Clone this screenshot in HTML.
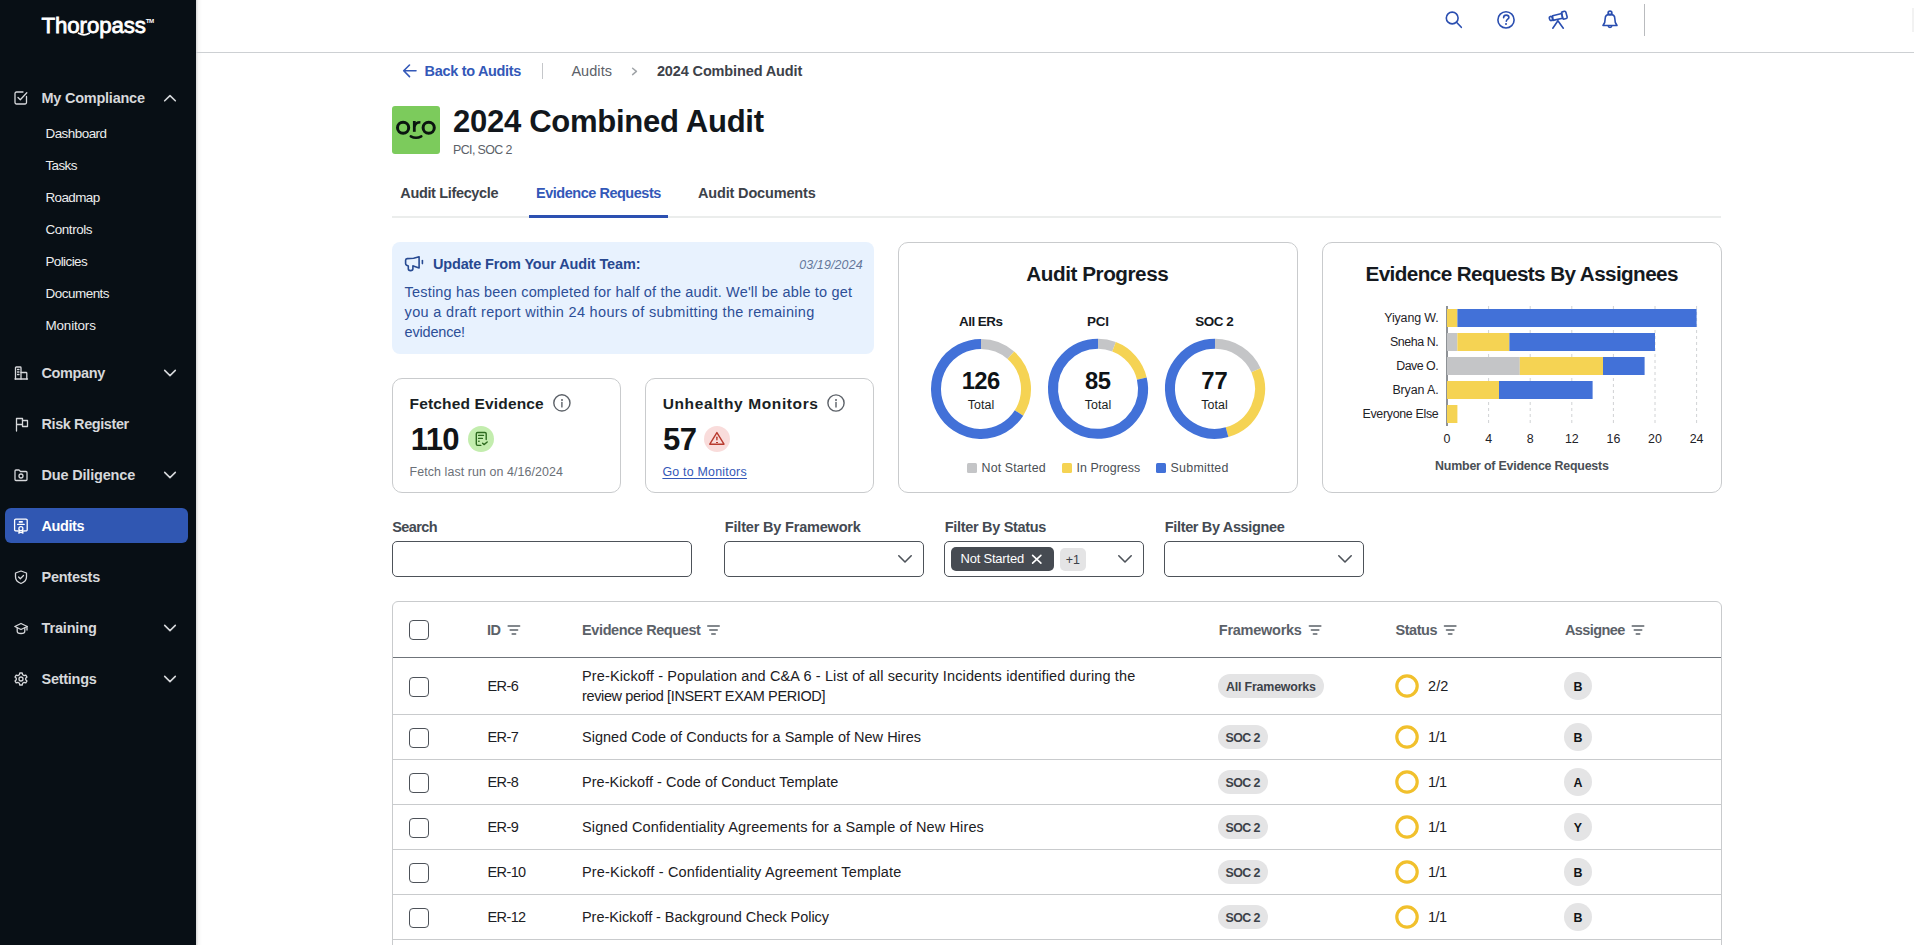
<!DOCTYPE html><html><head><meta charset="utf-8"><title>Thoropass</title><style>
*{box-sizing:border-box;margin:0;padding:0}
html,body{width:1914px;height:945px;overflow:hidden;background:#fff;font-family:"Liberation Sans", sans-serif}
.t{position:absolute;white-space:pre;font-family:"Liberation Sans", sans-serif}
.a{position:absolute}
svg{position:absolute;overflow:visible}
</style></head><body>
<div class="a" style="left:0;top:0;width:196px;height:945px;background:#080f15"></div>
<div class="a" style="left:196px;top:0;width:6px;height:945px;background:linear-gradient(90deg,rgba(0,0,0,.16),rgba(0,0,0,.03) 40%,rgba(0,0,0,0))"></div>
<span class="t" style="left:41.60px;top:15.00px;font-size:22.25px;line-height:22.25px;color:#ffffff;letter-spacing:-0.116px;-webkit-text-stroke:0.8px #fff;">Thoropass</span>
<svg style="left:0;top:0" width="1" height="1"><path d="M78.6 33.3 Q84 36.4 89.2 33.3" fill="none" stroke="#fff" stroke-width="1.8" stroke-linecap="round"/></svg>
<span class="t" style="left:145.80px;top:18.00px;font-size:6.21px;line-height:6.21px;color:#ffffff;font-weight:700;letter-spacing:-0.600px;">TM</span>
<span class="t" style="left:41.50px;top:91.00px;font-size:14.49px;line-height:14.49px;color:#d6d8db;font-weight:700;letter-spacing:-0.229px;">My Compliance</span>
<span class="t" style="left:45.50px;top:127.00px;font-size:13.45px;line-height:13.45px;color:#eceded;letter-spacing:-0.531px;">Dashboard</span>
<span class="t" style="left:45.50px;top:159.00px;font-size:13.45px;line-height:13.45px;color:#eceded;letter-spacing:-0.600px;">Tasks</span>
<span class="t" style="left:45.50px;top:191.00px;font-size:13.45px;line-height:13.45px;color:#eceded;letter-spacing:-0.600px;">Roadmap</span>
<span class="t" style="left:45.50px;top:223.00px;font-size:13.45px;line-height:13.45px;color:#eceded;letter-spacing:-0.435px;">Controls</span>
<span class="t" style="left:45.50px;top:255.00px;font-size:13.45px;line-height:13.45px;color:#eceded;letter-spacing:-0.600px;">Policies</span>
<span class="t" style="left:45.50px;top:287.00px;font-size:13.45px;line-height:13.45px;color:#eceded;letter-spacing:-0.484px;">Documents</span>
<span class="t" style="left:45.50px;top:319.00px;font-size:13.45px;line-height:13.45px;color:#eceded;letter-spacing:-0.162px;">Monitors</span>
<div class="a" style="left:5px;top:508px;width:183px;height:35px;border-radius:6px;background:#3057b2"></div>
<span class="t" style="left:41.50px;top:366.00px;font-size:14.49px;line-height:14.49px;color:#d6d8db;font-weight:700;letter-spacing:-0.367px;">Company</span>
<span class="t" style="left:41.50px;top:417.00px;font-size:14.49px;line-height:14.49px;color:#d6d8db;font-weight:700;letter-spacing:-0.408px;">Risk Register</span>
<span class="t" style="left:41.50px;top:468.00px;font-size:14.49px;line-height:14.49px;color:#d6d8db;font-weight:700;letter-spacing:-0.175px;">Due Diligence</span>
<span class="t" style="left:41.50px;top:519.00px;font-size:14.49px;line-height:14.49px;color:#ffffff;font-weight:700;letter-spacing:-0.412px;">Audits</span>
<span class="t" style="left:41.50px;top:570.00px;font-size:14.49px;line-height:14.49px;color:#d6d8db;font-weight:700;letter-spacing:-0.242px;">Pentests</span>
<span class="t" style="left:41.50px;top:621.00px;font-size:14.49px;line-height:14.49px;color:#d6d8db;font-weight:700;letter-spacing:-0.149px;">Training</span>
<span class="t" style="left:41.50px;top:672.00px;font-size:14.49px;line-height:14.49px;color:#d6d8db;font-weight:700;letter-spacing:-0.263px;">Settings</span>
<svg style="left:0;top:0" width="1" height="1"><path d="M164.7,100.8 L170,95.60000000000001 L175.3,100.8" fill="none" stroke="#d6d8db" stroke-width="1.6" stroke-linecap="round" stroke-linejoin="round"/></svg>
<svg style="left:0;top:0" width="1" height="1"><path d="M164.7,370.4 L170,375.6 L175.3,370.4" fill="none" stroke="#d6d8db" stroke-width="1.6" stroke-linecap="round" stroke-linejoin="round"/></svg>
<svg style="left:0;top:0" width="1" height="1"><path d="M164.7,472.4 L170,477.6 L175.3,472.4" fill="none" stroke="#d6d8db" stroke-width="1.6" stroke-linecap="round" stroke-linejoin="round"/></svg>
<svg style="left:0;top:0" width="1" height="1"><path d="M164.7,625.4 L170,630.6 L175.3,625.4" fill="none" stroke="#d6d8db" stroke-width="1.6" stroke-linecap="round" stroke-linejoin="round"/></svg>
<svg style="left:0;top:0" width="1" height="1"><path d="M164.7,676.4 L170,681.6 L175.3,676.4" fill="none" stroke="#d6d8db" stroke-width="1.6" stroke-linecap="round" stroke-linejoin="round"/></svg>
<svg style="left:14px;top:91px" width="14" height="14" viewBox="0 0 14 14" fill="none" stroke="#d6d8db" stroke-width="1.3" stroke-linecap="round" stroke-linejoin="round"><path d="M12.5 5.5 V11.5 a1.5 1.5 0 0 1 -1.5 1.5 H2.5 a1.5 1.5 0 0 1 -1.5 -1.5 V2.5 a1.5 1.5 0 0 1 1.5 -1.5 H9"/><path d="M4 6.5 L6.3 8.8 L12.8 1.8"/></svg>
<svg style="left:14px;top:366px" width="14" height="14" viewBox="0 0 14 14" fill="none" stroke="#d6d8db" stroke-width="1.3" stroke-linecap="round" stroke-linejoin="round"><path d="M1 13 H13.5"/><path d="M1.5 13 V1.8 a0.8 0.8 0 0 1 0.8 -0.8 H6.2 a0.8 0.8 0 0 1 0.8 0.8 V13"/><path d="M7 6.5 H12 a0.8 0.8 0 0 1 0.8 0.8 V13"/><path d="M3.5 3.5 H5 M3.5 6 H5 M3.5 8.5 H5"/></svg>
<svg style="left:14.5px;top:417px" width="14" height="14" viewBox="0 0 14 14" fill="none" stroke="#d6d8db" stroke-width="1.3" stroke-linecap="round" stroke-linejoin="round"><path d="M1.5 14 V1.5 H7.5 V3.5 H12.5 V9.5 H7.5 V7.5 H1.5"/><path d="M7.5 3.5 V7.5"/></svg>
<svg style="left:14px;top:468px" width="14" height="14" viewBox="0 0 14 14" fill="none" stroke="#d6d8db" stroke-width="1.3" stroke-linecap="round" stroke-linejoin="round"><path d="M1 3 a1 1 0 0 1 1 -1 H5 L6.5 3.5 H12 a1 1 0 0 1 1 1 V11.5 a1 1 0 0 1 -1 1 H2 a1 1 0 0 1 -1 -1 Z"/><circle cx="7" cy="8" r="2"/></svg>
<svg style="left:14px;top:519px" width="14" height="14" viewBox="0 0 14 14" fill="none" stroke="#ffffff" stroke-width="1.3" stroke-linecap="round" stroke-linejoin="round"><path d="M4.4 12 L1.8 11.9 a1.2 1.2 0 0 1 -1.2 -1.2 V1.4 a1.2 1.2 0 0 1 1.2 -1.2 H12 a1.2 1.2 0 0 1 1.2 1.2 V10.7 a1.2 1.2 0 0 1 -1.2 1.2 L9.4 12"/><path d="M5.4 2.9 H8.2" stroke-width="1.6"/><path d="M3.6 5.4 H10.2"/><circle cx="6.9" cy="9.7" r="2"/><path d="M5.5 11.3 L4.8 14.1 L6.9 13.2 L9 14.1 L8.3 11.3"/></svg>
<svg style="left:14px;top:570px" width="14" height="14" viewBox="0 0 14 14" fill="none" stroke="#d6d8db" stroke-width="1.3" stroke-linecap="round" stroke-linejoin="round"><path d="M7 1 L12.5 3 V7 C12.5 10 10 12.3 7 13.5 C4 12.3 1.5 10 1.5 7 V3 Z"/><path d="M4.6 7 L6.3 8.7 L9.5 5.5"/></svg>
<svg style="left:14px;top:621px" width="14" height="14" viewBox="0 0 14 14" fill="none" stroke="#d6d8db" stroke-width="1.3" stroke-linecap="round" stroke-linejoin="round"><path d="M7 2.5 L13.2 5.5 L7 8.5 L0.8 5.5 Z"/><path d="M3.2 6.8 V10.2 C3.2 11.5 5 12.5 7 12.5 C9 12.5 10.8 11.5 10.8 10.2 V6.8"/><path d="M13 5.5 V9"/></svg>
<svg style="left:14px;top:672px" width="14" height="14" viewBox="0 0 14 14" fill="none" stroke="#d6d8db" stroke-width="1.3" stroke-linecap="round" stroke-linejoin="round"><circle cx="7" cy="7" r="2"/><path d="M5.8 1 H8.2 L8.6 2.7 L10.1 3.6 L11.8 3.1 L13 5.1 L11.7 6.3 V7.7 L13 8.9 L11.8 10.9 L10.1 10.4 L8.6 11.3 L8.2 13 H5.8 L5.4 11.3 L3.9 10.4 L2.2 10.9 L1 8.9 L2.3 7.7 V6.3 L1 5.1 L2.2 3.1 L3.9 3.6 L5.4 2.7 Z"/></svg>
<div class="a" style="left:196px;top:52px;width:1718px;height:1px;background:#cdd0d3"></div>
<div class="a" style="left:1644px;top:4px;width:1px;height:32px;background:#b9bbbe"></div>
<div class="a" style="left:1912px;top:8px;width:2px;height:24px;background:#f2f2f2"></div>
<svg style="left:0;top:0" width="1" height="1" fill="none" stroke="#2a4eb0" stroke-width="1.6" stroke-linecap="round" stroke-linejoin="round"><circle cx="1452.2" cy="18" r="5.9"/><path d="M1456.5 22.3 L1461.3 27.3"/><circle cx="1506" cy="19.9" r="8.1"/><path d="M1503.6 17.7 C1503.6 16 1504.8 15.1 1506.2 15.1 C1507.8 15.1 1508.9 16.1 1508.9 17.4 C1508.9 19 1506.3 19.3 1506.3 21.3"/><path d="M1552.6 15.7 L1561.8 13.5 L1562.6 18.3 L1552.9 20.4 Z"/><ellipse cx="1550.9" cy="18.5" rx="1.5" ry="2.1" transform="rotate(-14 1550.9 18.5)"/><rect x="1562.1" y="11.5" width="4.5" height="7.4" rx="1.2" transform="rotate(-15 1564.3 15.2)"/><path d="M1557.9 20.8 L1552.8 28.2 M1557.9 20.8 L1563.3 28.2"/><circle cx="1610" cy="13" r="1.9"/><path d="M1605.2 18.5 C1605.2 15.5 1607.2 14.4 1610 14.4 C1612.8 14.4 1614.8 15.5 1614.8 18.5 L1615.3 22.5 L1617 25.5 H1603 L1604.7 22.5 Z"/><path d="M1608.3 26 C1608.3 27.8 1611.7 27.8 1611.7 26"/></svg>
<div class="a" style="left:1505.3px;top:23.2px;width:1.9px;height:1.9px;background:#2a4eb0;border-radius:1px"></div>
<svg style="left:0;top:0" width="1" height="1" fill="none" stroke="#3358b8" stroke-width="1.6" stroke-linecap="round" stroke-linejoin="round"><path d="M416 70.8 H404 M409.5 65 L403.7 70.8 L409.5 76.6"/></svg>
<span class="t" style="left:424.60px;top:64.00px;font-size:14.49px;line-height:14.49px;color:#3358b8;font-weight:700;letter-spacing:-0.313px;">Back to Audits</span>
<div class="a" style="left:542px;top:63px;width:1px;height:16px;background:#c5c7ca"></div>
<span class="t" style="left:571.40px;top:64.00px;font-size:14.49px;line-height:14.49px;color:#5b6168;letter-spacing:0.067px;">Audits</span>
<svg style="left:0;top:0" width="1" height="1"><path d="M632.6 68.2 L636.4 71.4 L632.6 74.6" fill="none" stroke="#a0a4a8" stroke-width="1.5" stroke-linecap="round" stroke-linejoin="round"/></svg>
<span class="t" style="left:656.90px;top:64.00px;font-size:14.49px;line-height:14.49px;color:#3d4249;font-weight:700;letter-spacing:-0.119px;">2024 Combined Audit</span>
<div class="a" style="left:392px;top:106px;width:48px;height:48px;border-radius:3px;background:#7ccb5c"></div>
<svg style="left:0;top:0" width="1" height="1" fill="none" stroke="#0b1510" stroke-width="3"><ellipse cx="403.1" cy="127.7" rx="5.6" ry="5.5"/><ellipse cx="428.7" cy="127.7" rx="5.6" ry="5.5"/><path d="M414.3 121 V131.8" stroke-width="2.8"/><path d="M414.6 126.5 C415.2 123.6 417.3 122.2 420.4 122.2" stroke-width="2.6"/><path d="M410.8 136.3 Q416 139.2 421.3 136.3" stroke-width="2.6" stroke-linecap="round"/></svg>
<span class="t" style="left:453.00px;top:106.00px;font-size:31.05px;line-height:31.05px;color:#12171c;font-weight:700;letter-spacing:-0.293px;">2024 Combined Audit</span>
<span class="t" style="left:453.00px;top:144.00px;font-size:12.42px;line-height:12.42px;color:#5b6168;letter-spacing:-0.600px;">PCI, SOC 2</span>
<span class="t" style="left:400.30px;top:186.00px;font-size:14.49px;line-height:14.49px;color:#3d4249;font-weight:700;letter-spacing:-0.345px;">Audit Lifecycle</span>
<span class="t" style="left:536.00px;top:186.00px;font-size:14.49px;line-height:14.49px;color:#3358b8;font-weight:700;letter-spacing:-0.471px;">Evidence Requests</span>
<span class="t" style="left:698.00px;top:186.00px;font-size:14.49px;line-height:14.49px;color:#3d4249;font-weight:700;letter-spacing:-0.158px;">Audit Documents</span>
<div class="a" style="left:392px;top:216px;width:1329px;height:2px;background:#ebedec"></div>
<div class="a" style="left:529px;top:215px;width:139px;height:3px;background:#2c50b1"></div>
<div class="a" style="left:392px;top:242px;width:482px;height:112px;border-radius:8px;background:#e8f2fe"></div>
<svg style="left:0;top:0" width="1" height="1" fill="none" stroke="#274a92" stroke-width="1.6" stroke-linecap="round" stroke-linejoin="round"><path d="M405.6 260.2 Q405.6 258.7 407.2 258.6 L413.6 258.3 L419.1 256.7 V267.9 L413.3 265.9 H412.9 V268.8 Q412.9 270.6 410.6 270.6 Q408.3 270.6 408.3 268.8 V266 L406.6 265.3 Q405.6 264.9 405.6 263.6 Z"/><path d="M422.4 260.6 V263.6"/></svg>
<span class="t" style="left:432.90px;top:257.00px;font-size:14.49px;line-height:14.49px;color:#274890;font-weight:700;letter-spacing:-0.130px;">Update From Your Audit Team:</span>
<span class="t" style="left:799.20px;top:259.00px;font-size:12.42px;line-height:12.42px;color:#64779a;font-style:italic;letter-spacing:0.145px;">03/19/2024</span>
<span class="t" style="left:404.60px;top:285.00px;font-size:14.49px;line-height:14.49px;color:#2d4f97;letter-spacing:0.181px;">Testing has been completed for half of the audit. We'll be able to get</span>
<span class="t" style="left:404.60px;top:305.00px;font-size:14.49px;line-height:14.49px;color:#2d4f97;letter-spacing:0.328px;">you a draft report within 24 hours of submitting the remaining</span>
<span class="t" style="left:404.60px;top:325.00px;font-size:14.49px;line-height:14.49px;color:#2d4f97;letter-spacing:-0.189px;">evidence!</span>
<div class="a" style="left:392px;top:378px;width:229px;height:115px;border:1px solid #c9cbcd;border-radius:10px"></div>
<div class="a" style="left:645px;top:378px;width:229px;height:115px;border:1px solid #c9cbcd;border-radius:10px"></div>
<span class="t" style="left:409.60px;top:396.00px;font-size:15.52px;line-height:15.52px;color:#1a1f24;font-weight:700;letter-spacing:0.144px;">Fetched Evidence</span>
<span class="t" style="left:662.70px;top:396.00px;font-size:15.52px;line-height:15.52px;color:#1a1f24;font-weight:700;letter-spacing:0.616px;">Unhealthy Monitors</span>
<svg style="left:0;top:0" width="1" height="1" fill="none" stroke="#5c6168" stroke-width="1.4" stroke-linecap="round"><circle cx="561.9" cy="402.9" r="8.1"/><path d="M561.9 402.4 V406.9"/></svg>
<div class="a" style="left:560.9px;top:398.7px;width:2px;height:2px;border-radius:1px;background:#5c6168"></div>
<svg style="left:0;top:0" width="1" height="1" fill="none" stroke="#5c6168" stroke-width="1.4" stroke-linecap="round"><circle cx="836" cy="403" r="8.1"/><path d="M836 402.5 V407"/></svg>
<div class="a" style="left:835px;top:398.8px;width:2px;height:2px;border-radius:1px;background:#5c6168"></div>
<span class="t" style="left:410.70px;top:424.00px;font-size:31.05px;line-height:31.05px;color:#111417;font-weight:700;letter-spacing:-0.600px;">110</span>
<span class="t" style="left:663.00px;top:424.00px;font-size:31.05px;line-height:31.05px;color:#111417;font-weight:700;letter-spacing:-0.600px;">57</span>
<div class="a" style="left:468px;top:426px;width:26px;height:26px;border-radius:13px;background:#c3edae"></div>
<svg style="left:0;top:0" width="1" height="1" fill="none" stroke="#2d6a1f" stroke-width="1.4" stroke-linecap="round" stroke-linejoin="round"><path d="M480.8 445.4 H477.6 a1.3 1.3 0 0 1 -1.3 -1.3 V433.8 a1.3 1.3 0 0 1 1.3 -1.3 H484.9 a1.3 1.3 0 0 1 1.3 1.3 V439.6"/><path d="M478.6 435.4 H483.5 M478.6 438.4 H482.4 M478.7 441.2 H479.1"/><path d="M482.6 443.2 L484 444.6 L487.2 442"/></svg>
<div class="a" style="left:704px;top:426px;width:26px;height:26px;border-radius:13px;background:#f9dcdb"></div>
<svg style="left:0;top:0" width="1" height="1" fill="none" stroke="#b83a2e" stroke-width="1.4" stroke-linecap="round" stroke-linejoin="round"><path d="M716.9 432.6 L724 444.2 H709.8 Z"/><path d="M716.9 437.3 V439.8"/></svg>
<div class="a" style="left:716.3px;top:441.6px;width:1.5px;height:1.5px;background:#b83a2e"></div>
<span class="t" style="left:409.60px;top:466.00px;font-size:12.42px;line-height:12.42px;color:#6b7077;letter-spacing:0.087px;">Fetch last run on 4/16/2024</span>
<span class="t" style="left:662.40px;top:466.00px;font-size:12.42px;line-height:12.42px;color:#3358b8;letter-spacing:0.225px;text-decoration:underline;text-underline-offset:2px;">Go to Monitors</span>
<div class="a" style="left:898px;top:242px;width:400px;height:251px;border:1px solid #c9cbcd;border-radius:10px"></div>
<span class="t" style="left:1026.25px;top:264.00px;font-size:20.7px;line-height:20.7px;color:#151a1f;font-weight:700;letter-spacing:-0.446px;">Audit Progress</span>
<svg style="left:0;top:0" width="1" height="1"><path d="M981.00 343.90 A45 45 0 0 1 1010.82 355.20" fill="none" stroke="#c4c5c7" stroke-width="10"/><path d="M1010.82 355.20 A45 45 0 0 1 1018.99 413.01" fill="none" stroke="#f5d353" stroke-width="10"/><path d="M1018.99 413.01 A45 45 0 1 1 981.00 343.90" fill="none" stroke="#4271d8" stroke-width="10"/></svg>
<svg style="left:0;top:0" width="1" height="1"><path d="M1098.00 343.80 A45 45 0 0 1 1114.05 346.76" fill="none" stroke="#c4c5c7" stroke-width="10"/><path d="M1114.05 346.76 A45 45 0 0 1 1141.81 378.52" fill="none" stroke="#f5d353" stroke-width="10"/><path d="M1141.81 378.52 A45 45 0 1 1 1098.00 343.80" fill="none" stroke="#4271d8" stroke-width="10"/></svg>
<svg style="left:0;top:0" width="1" height="1"><path d="M1215.00 343.80 A45 45 0 0 1 1256.01 370.28" fill="none" stroke="#c4c5c7" stroke-width="10"/><path d="M1256.01 370.28 A45 45 0 0 1 1227.03 432.16" fill="none" stroke="#f5d353" stroke-width="10"/><path d="M1227.03 432.16 A45 45 0 1 1 1215.00 343.80" fill="none" stroke="#4271d8" stroke-width="10"/></svg>
<span class="t" style="left:959.10px;top:315.00px;font-size:13.45px;line-height:13.45px;color:#151a1f;font-weight:700;letter-spacing:-0.541px;">All ERs</span>
<span class="t" style="left:961.74px;top:369.00px;font-size:23.8px;line-height:23.8px;color:#0f1316;font-weight:700;letter-spacing:-0.600px;">126</span>
<span class="t" style="left:967.70px;top:399.00px;font-size:12.42px;line-height:12.42px;color:#1a1e22;letter-spacing:0.095px;">Total</span>
<span class="t" style="left:1087.10px;top:315.00px;font-size:13.45px;line-height:13.45px;color:#151a1f;font-weight:700;letter-spacing:-0.303px;">PCI</span>
<span class="t" style="left:1084.95px;top:369.00px;font-size:23.8px;line-height:23.8px;color:#0f1316;font-weight:700;letter-spacing:-0.384px;">85</span>
<span class="t" style="left:1084.70px;top:399.00px;font-size:12.42px;line-height:12.42px;color:#1a1e22;letter-spacing:0.095px;">Total</span>
<span class="t" style="left:1195.25px;top:315.00px;font-size:13.45px;line-height:13.45px;color:#151a1f;font-weight:700;letter-spacing:-0.457px;">SOC 2</span>
<span class="t" style="left:1201.30px;top:369.00px;font-size:23.8px;line-height:23.8px;color:#0f1316;font-weight:700;letter-spacing:-0.084px;">77</span>
<span class="t" style="left:1201.20px;top:399.00px;font-size:12.42px;line-height:12.42px;color:#1a1e22;letter-spacing:0.095px;">Total</span>
<div class="a" style="left:967px;top:463px;width:10px;height:10px;border-radius:1.5px;background:#c4c5c7"></div>
<span class="t" style="left:981.60px;top:462.00px;font-size:12.42px;line-height:12.42px;color:#4a4f55;letter-spacing:0.123px;">Not Started</span>
<div class="a" style="left:1062px;top:463px;width:10px;height:10px;border-radius:1.5px;background:#f5d353"></div>
<span class="t" style="left:1076.60px;top:462.00px;font-size:12.42px;line-height:12.42px;color:#4a4f55;letter-spacing:0.016px;">In Progress</span>
<div class="a" style="left:1156px;top:463px;width:10px;height:10px;border-radius:1.5px;background:#4271d8"></div>
<span class="t" style="left:1170.60px;top:462.00px;font-size:12.42px;line-height:12.42px;color:#4a4f55;letter-spacing:0.243px;">Submitted</span>
<div class="a" style="left:1322px;top:242px;width:400px;height:251px;border:1px solid #c9cbcd;border-radius:10px"></div>
<span class="t" style="left:1365.51px;top:264.00px;font-size:20.7px;line-height:20.7px;color:#151a1f;font-weight:700;letter-spacing:-0.600px;">Evidence Requests By Assignees</span>
<svg style="left:0;top:0" width="1" height="1"><path d="M1488.6 306 V426" stroke="#d0d2d4" stroke-width="1" stroke-dasharray="3 3"/><path d="M1530.2 306 V426" stroke="#d0d2d4" stroke-width="1" stroke-dasharray="3 3"/><path d="M1571.8 306 V426" stroke="#d0d2d4" stroke-width="1" stroke-dasharray="3 3"/><path d="M1613.4 306 V426" stroke="#d0d2d4" stroke-width="1" stroke-dasharray="3 3"/><path d="M1655.0 306 V426" stroke="#d0d2d4" stroke-width="1" stroke-dasharray="3 3"/><path d="M1696.6 306 V426" stroke="#d0d2d4" stroke-width="1" stroke-dasharray="3 3"/><path d="M1447 306 V426" stroke="#5f646a" stroke-width="1.4"/><rect x="1447.00" y="309" width="10.40" height="18" fill="#f5d353"/><rect x="1457.40" y="309" width="239.20" height="18" fill="#4271d8"/><rect x="1447.00" y="333" width="10.40" height="18" fill="#c4c5c7"/><rect x="1457.40" y="333" width="52.00" height="18" fill="#f5d353"/><rect x="1509.40" y="333" width="145.60" height="18" fill="#4271d8"/><rect x="1447.00" y="357" width="72.80" height="18" fill="#c4c5c7"/><rect x="1519.80" y="357" width="83.20" height="18" fill="#f5d353"/><rect x="1603.00" y="357" width="41.60" height="18" fill="#4271d8"/><rect x="1447.00" y="381" width="52.00" height="18" fill="#f5d353"/><rect x="1499.00" y="381" width="93.60" height="18" fill="#4271d8"/><rect x="1447.00" y="405" width="10.40" height="18" fill="#f5d353"/></svg>
<span class="t" style="left:1384.20px;top:312.00px;font-size:12.42px;line-height:12.42px;color:#1f2328;letter-spacing:-0.113px;">Yiyang W.</span>
<span class="t" style="left:1390.00px;top:336.00px;font-size:12.42px;line-height:12.42px;color:#1f2328;letter-spacing:-0.433px;">Sneha N.</span>
<span class="t" style="left:1396.20px;top:360.00px;font-size:12.42px;line-height:12.42px;color:#1f2328;letter-spacing:-0.503px;">Dave O.</span>
<span class="t" style="left:1392.40px;top:384.00px;font-size:12.42px;line-height:12.42px;color:#1f2328;letter-spacing:-0.087px;">Bryan A.</span>
<span class="t" style="left:1362.50px;top:408.00px;font-size:12.42px;line-height:12.42px;color:#1f2328;letter-spacing:-0.317px;">Everyone Else</span>
<span class="t" style="left:1443.55px;top:433.00px;font-size:12.42px;line-height:12.42px;color:#1f2328;">0</span>
<span class="t" style="left:1485.15px;top:433.00px;font-size:12.42px;line-height:12.42px;color:#1f2328;">4</span>
<span class="t" style="left:1526.75px;top:433.00px;font-size:12.42px;line-height:12.42px;color:#1f2328;">8</span>
<span class="t" style="left:1564.89px;top:433.00px;font-size:12.42px;line-height:12.42px;color:#1f2328;">12</span>
<span class="t" style="left:1606.49px;top:433.00px;font-size:12.42px;line-height:12.42px;color:#1f2328;">16</span>
<span class="t" style="left:1648.09px;top:433.00px;font-size:12.42px;line-height:12.42px;color:#1f2328;">20</span>
<span class="t" style="left:1689.69px;top:433.00px;font-size:12.42px;line-height:12.42px;color:#1f2328;">24</span>
<span class="t" style="left:1435.10px;top:460.00px;font-size:12.42px;line-height:12.42px;color:#4a4f55;font-weight:700;letter-spacing:-0.210px;">Number of Evidence Requests</span>
<span class="t" style="left:392.20px;top:520.00px;font-size:14.49px;line-height:14.49px;color:#444a52;font-weight:700;letter-spacing:-0.600px;">Search</span>
<span class="t" style="left:724.80px;top:520.00px;font-size:14.49px;line-height:14.49px;color:#444a52;font-weight:700;letter-spacing:-0.176px;">Filter By Framework</span>
<span class="t" style="left:944.80px;top:520.00px;font-size:14.49px;line-height:14.49px;color:#444a52;font-weight:700;letter-spacing:-0.310px;">Filter By Status</span>
<span class="t" style="left:1164.80px;top:520.00px;font-size:14.49px;line-height:14.49px;color:#444a52;font-weight:700;letter-spacing:-0.344px;">Filter By Assignee</span>
<div class="a" style="left:392px;top:541px;width:300px;height:36px;border:1px solid #4d5259;border-radius:5px"></div>
<div class="a" style="left:724px;top:541px;width:200px;height:36px;border:1px solid #4d5259;border-radius:5px"></div>
<div class="a" style="left:944px;top:541px;width:200px;height:36px;border:1px solid #4d5259;border-radius:5px"></div>
<div class="a" style="left:1164px;top:541px;width:200px;height:36px;border:1px solid #4d5259;border-radius:5px"></div>
<svg style="left:0;top:0" width="1" height="1"><path d="M898.8,555.8 L905,562.0 L911.2,555.8" fill="none" stroke="#4d5259" stroke-width="1.6" stroke-linecap="round" stroke-linejoin="round"/></svg>
<svg style="left:0;top:0" width="1" height="1"><path d="M1118.8,555.8 L1125,562.0 L1131.2,555.8" fill="none" stroke="#4d5259" stroke-width="1.6" stroke-linecap="round" stroke-linejoin="round"/></svg>
<svg style="left:0;top:0" width="1" height="1"><path d="M1338.8,555.8 L1345,562.0 L1351.2,555.8" fill="none" stroke="#4d5259" stroke-width="1.6" stroke-linecap="round" stroke-linejoin="round"/></svg>
<div class="a" style="left:951px;top:547px;width:103px;height:24px;border-radius:5px;background:#464b52"></div>
<span class="t" style="left:960.50px;top:553.00px;font-size:12.94px;line-height:12.94px;color:#ffffff;letter-spacing:-0.185px;">Not Started</span>
<svg style="left:0;top:0" width="1" height="1"><path d="M1032.6 555.3 L1040.9 563.2 M1040.9 555.3 L1032.6 563.2" stroke="#ffffff" stroke-width="1.6" stroke-linecap="round"/></svg>
<div class="a" style="left:1060px;top:548px;width:26px;height:23px;border-radius:5px;background:#e4e4e5"></div>
<span class="t" style="left:1065.72px;top:554.00px;font-size:12.42px;line-height:12.42px;color:#3d4249;">+1</span>
<div class="a" style="left:392px;top:601px;width:1330px;height:400px;border:1px solid #c9cbcd;border-radius:6px"></div>
<div class="a" style="left:393px;top:657px;width:1328px;height:1px;background:#6f747a"></div>
<div class="a" style="left:393px;top:714px;width:1328px;height:1px;background:#c9cbcd"></div>
<div class="a" style="left:393px;top:759px;width:1328px;height:1px;background:#c9cbcd"></div>
<div class="a" style="left:393px;top:804px;width:1328px;height:1px;background:#c9cbcd"></div>
<div class="a" style="left:393px;top:849px;width:1328px;height:1px;background:#c9cbcd"></div>
<div class="a" style="left:393px;top:894px;width:1328px;height:1px;background:#c9cbcd"></div>
<div class="a" style="left:393px;top:939px;width:1328px;height:1px;background:#c9cbcd"></div>
<div class="a" style="left:409px;top:620px;width:20px;height:20px;border:1.5px solid #4d5259;border-radius:4px"></div>
<span class="t" style="left:487.10px;top:623.00px;font-size:14.49px;line-height:14.49px;color:#5b6168;font-weight:700;letter-spacing:-0.500px;">ID</span>
<svg style="left:0;top:0" width="1" height="1" stroke="#5b6168" stroke-width="1.6" stroke-linecap="round"><path d="M508.2 626 H519.6 M510.2 630 H517.6 M512.1999999999999 634 H515.6"/></svg>
<span class="t" style="left:582.10px;top:623.00px;font-size:14.49px;line-height:14.49px;color:#5b6168;font-weight:700;letter-spacing:-0.399px;">Evidence Request</span>
<svg style="left:0;top:0" width="1" height="1" stroke="#5b6168" stroke-width="1.6" stroke-linecap="round"><path d="M707.8 626 H719.2 M709.8 630 H717.2 M711.8 634 H715.2"/></svg>
<span class="t" style="left:1218.80px;top:623.00px;font-size:14.49px;line-height:14.49px;color:#5b6168;font-weight:700;letter-spacing:-0.249px;">Frameworks</span>
<svg style="left:0;top:0" width="1" height="1" stroke="#5b6168" stroke-width="1.6" stroke-linecap="round"><path d="M1309.3999999999999 626 H1320.8 M1311.3999999999999 630 H1318.8 M1313.3999999999999 634 H1316.8"/></svg>
<span class="t" style="left:1395.50px;top:623.00px;font-size:14.49px;line-height:14.49px;color:#5b6168;font-weight:700;letter-spacing:-0.436px;">Status</span>
<svg style="left:0;top:0" width="1" height="1" stroke="#5b6168" stroke-width="1.6" stroke-linecap="round"><path d="M1444.5 626 H1455.9 M1446.5 630 H1453.9 M1448.5 634 H1451.9"/></svg>
<span class="t" style="left:1565.00px;top:623.00px;font-size:14.49px;line-height:14.49px;color:#5b6168;font-weight:700;letter-spacing:-0.600px;">Assignee</span>
<svg style="left:0;top:0" width="1" height="1" stroke="#5b6168" stroke-width="1.6" stroke-linecap="round"><path d="M1632.3 626 H1643.7 M1634.3 630 H1641.7 M1636.3 634 H1639.7"/></svg>
<div class="a" style="left:409px;top:676.5px;width:20px;height:20px;border:1.5px solid #4d5259;border-radius:4px"></div>
<span class="t" style="left:487.50px;top:679.00px;font-size:14.49px;line-height:14.49px;color:#1c2024;letter-spacing:-0.600px;">ER-6</span>
<span class="t" style="left:582.00px;top:669.00px;font-size:14.49px;line-height:14.49px;color:#1c2024;letter-spacing:0.132px;">Pre-Kickoff - Population and C&amp;A 6 - List of all security Incidents identified during the</span>
<span class="t" style="left:582.00px;top:689.00px;font-size:14.49px;line-height:14.49px;color:#1c2024;letter-spacing:-0.362px;">review period [INSERT EXAM PERIOD]</span>
<div class="a" style="left:1218px;top:674.0px;width:106px;height:24px;border-radius:12px;background:#e4e4e5"></div>
<span class="t" style="left:1226.00px;top:681.00px;font-size:12.42px;line-height:12.42px;color:#3d4249;font-weight:700;letter-spacing:-0.185px;">All Frameworks</span>
<svg style="left:0;top:0" width="1" height="1"><circle cx="1407" cy="686.0" r="10.2" fill="none" stroke="#f1c02c" stroke-width="3.2"/></svg>
<span class="t" style="left:1428.00px;top:679.00px;font-size:14.49px;line-height:14.49px;color:#1c2024;letter-spacing:0.080px;">2/2</span>
<div class="a" style="left:1564px;top:672.0px;width:28px;height:28px;border-radius:14px;background:#e4e4e5"></div>
<span class="t" style="left:1573.52px;top:681.00px;font-size:12.42px;line-height:12.42px;color:#111417;font-weight:700;">B</span>
<div class="a" style="left:409px;top:727.5px;width:20px;height:20px;border:1.5px solid #4d5259;border-radius:4px"></div>
<span class="t" style="left:487.50px;top:730.00px;font-size:14.49px;line-height:14.49px;color:#1c2024;letter-spacing:-0.600px;">ER-7</span>
<span class="t" style="left:582.00px;top:730.00px;font-size:14.49px;line-height:14.49px;color:#1c2024;letter-spacing:0.018px;">Signed Code of Conducts for a Sample of New Hires</span>
<div class="a" style="left:1218px;top:725.0px;width:50px;height:24px;border-radius:12px;background:#e4e4e5"></div>
<span class="t" style="left:1225.58px;top:732.00px;font-size:12.42px;line-height:12.42px;color:#3d4249;font-weight:700;letter-spacing:-0.600px;">SOC 2</span>
<svg style="left:0;top:0" width="1" height="1"><circle cx="1407" cy="737.0" r="10.2" fill="none" stroke="#f1c02c" stroke-width="3.2"/></svg>
<span class="t" style="left:1428.00px;top:730.00px;font-size:14.49px;line-height:14.49px;color:#1c2024;letter-spacing:-0.600px;">1/1</span>
<div class="a" style="left:1564px;top:723.0px;width:28px;height:28px;border-radius:14px;background:#e4e4e5"></div>
<span class="t" style="left:1573.52px;top:732.00px;font-size:12.42px;line-height:12.42px;color:#111417;font-weight:700;">B</span>
<div class="a" style="left:409px;top:772.5px;width:20px;height:20px;border:1.5px solid #4d5259;border-radius:4px"></div>
<span class="t" style="left:487.50px;top:775.00px;font-size:14.49px;line-height:14.49px;color:#1c2024;letter-spacing:-0.600px;">ER-8</span>
<span class="t" style="left:582.00px;top:775.00px;font-size:14.49px;line-height:14.49px;color:#1c2024;letter-spacing:0.044px;">Pre-Kickoff - Code of Conduct Template</span>
<div class="a" style="left:1218px;top:770.0px;width:50px;height:24px;border-radius:12px;background:#e4e4e5"></div>
<span class="t" style="left:1225.58px;top:777.00px;font-size:12.42px;line-height:12.42px;color:#3d4249;font-weight:700;letter-spacing:-0.600px;">SOC 2</span>
<svg style="left:0;top:0" width="1" height="1"><circle cx="1407" cy="782.0" r="10.2" fill="none" stroke="#f1c02c" stroke-width="3.2"/></svg>
<span class="t" style="left:1428.00px;top:775.00px;font-size:14.49px;line-height:14.49px;color:#1c2024;letter-spacing:-0.600px;">1/1</span>
<div class="a" style="left:1564px;top:768.0px;width:28px;height:28px;border-radius:14px;background:#e4e4e5"></div>
<span class="t" style="left:1573.52px;top:777.00px;font-size:12.42px;line-height:12.42px;color:#111417;font-weight:700;">A</span>
<div class="a" style="left:409px;top:817.5px;width:20px;height:20px;border:1.5px solid #4d5259;border-radius:4px"></div>
<span class="t" style="left:487.50px;top:820.00px;font-size:14.49px;line-height:14.49px;color:#1c2024;letter-spacing:-0.600px;">ER-9</span>
<span class="t" style="left:582.00px;top:820.00px;font-size:14.49px;line-height:14.49px;color:#1c2024;letter-spacing:0.126px;">Signed Confidentiality Agreements for a Sample of New Hires</span>
<div class="a" style="left:1218px;top:815.0px;width:50px;height:24px;border-radius:12px;background:#e4e4e5"></div>
<span class="t" style="left:1225.58px;top:822.00px;font-size:12.42px;line-height:12.42px;color:#3d4249;font-weight:700;letter-spacing:-0.600px;">SOC 2</span>
<svg style="left:0;top:0" width="1" height="1"><circle cx="1407" cy="827.0" r="10.2" fill="none" stroke="#f1c02c" stroke-width="3.2"/></svg>
<span class="t" style="left:1428.00px;top:820.00px;font-size:14.49px;line-height:14.49px;color:#1c2024;letter-spacing:-0.600px;">1/1</span>
<div class="a" style="left:1564px;top:813.0px;width:28px;height:28px;border-radius:14px;background:#e4e4e5"></div>
<span class="t" style="left:1573.86px;top:822.00px;font-size:12.42px;line-height:12.42px;color:#111417;font-weight:700;">Y</span>
<div class="a" style="left:409px;top:862.5px;width:20px;height:20px;border:1.5px solid #4d5259;border-radius:4px"></div>
<span class="t" style="left:487.50px;top:865.00px;font-size:14.49px;line-height:14.49px;color:#1c2024;letter-spacing:-0.600px;">ER-10</span>
<span class="t" style="left:582.00px;top:865.00px;font-size:14.49px;line-height:14.49px;color:#1c2024;letter-spacing:0.176px;">Pre-Kickoff - Confidentiality Agreement Template</span>
<div class="a" style="left:1218px;top:860.0px;width:50px;height:24px;border-radius:12px;background:#e4e4e5"></div>
<span class="t" style="left:1225.58px;top:867.00px;font-size:12.42px;line-height:12.42px;color:#3d4249;font-weight:700;letter-spacing:-0.600px;">SOC 2</span>
<svg style="left:0;top:0" width="1" height="1"><circle cx="1407" cy="872.0" r="10.2" fill="none" stroke="#f1c02c" stroke-width="3.2"/></svg>
<span class="t" style="left:1428.00px;top:865.00px;font-size:14.49px;line-height:14.49px;color:#1c2024;letter-spacing:-0.600px;">1/1</span>
<div class="a" style="left:1564px;top:858.0px;width:28px;height:28px;border-radius:14px;background:#e4e4e5"></div>
<span class="t" style="left:1573.52px;top:867.00px;font-size:12.42px;line-height:12.42px;color:#111417;font-weight:700;">B</span>
<div class="a" style="left:409px;top:907.5px;width:20px;height:20px;border:1.5px solid #4d5259;border-radius:4px"></div>
<span class="t" style="left:487.50px;top:910.00px;font-size:14.49px;line-height:14.49px;color:#1c2024;letter-spacing:-0.600px;">ER-12</span>
<span class="t" style="left:582.00px;top:910.00px;font-size:14.49px;line-height:14.49px;color:#1c2024;letter-spacing:-0.041px;">Pre-Kickoff - Background Check Policy</span>
<div class="a" style="left:1218px;top:905.0px;width:50px;height:24px;border-radius:12px;background:#e4e4e5"></div>
<span class="t" style="left:1225.58px;top:912.00px;font-size:12.42px;line-height:12.42px;color:#3d4249;font-weight:700;letter-spacing:-0.600px;">SOC 2</span>
<svg style="left:0;top:0" width="1" height="1"><circle cx="1407" cy="917.0" r="10.2" fill="none" stroke="#f1c02c" stroke-width="3.2"/></svg>
<span class="t" style="left:1428.00px;top:910.00px;font-size:14.49px;line-height:14.49px;color:#1c2024;letter-spacing:-0.600px;">1/1</span>
<div class="a" style="left:1564px;top:903.0px;width:28px;height:28px;border-radius:14px;background:#e4e4e5"></div>
<span class="t" style="left:1573.52px;top:912.00px;font-size:12.42px;line-height:12.42px;color:#111417;font-weight:700;">B</span>
<div class="a" style="left:409px;top:952.5px;width:20px;height:20px;border:1.5px solid #4d5259;border-radius:4px"></div>
<span class="t" style="left:487.50px;top:955.00px;font-size:14.49px;line-height:14.49px;color:#1c2024;letter-spacing:-0.600px;">ER-13</span>
<span class="t" style="left:582.00px;top:955.00px;font-size:14.49px;line-height:14.49px;color:#1c2024;letter-spacing:-0.041px;">Pre-Kickoff - Background Check Policy</span>
<div class="a" style="left:1218px;top:950.0px;width:50px;height:24px;border-radius:12px;background:#e4e4e5"></div>
<span class="t" style="left:1225.58px;top:957.00px;font-size:12.42px;line-height:12.42px;color:#3d4249;font-weight:700;letter-spacing:-0.600px;">SOC 2</span>
<svg style="left:0;top:0" width="1" height="1"><circle cx="1407" cy="962.0" r="10.2" fill="none" stroke="#f1c02c" stroke-width="3.2"/></svg>
<span class="t" style="left:1428.00px;top:955.00px;font-size:14.49px;line-height:14.49px;color:#1c2024;letter-spacing:-0.600px;">1/1</span>
<div class="a" style="left:1564px;top:948.0px;width:28px;height:28px;border-radius:14px;background:#e4e4e5"></div>
<span class="t" style="left:1573.52px;top:957.00px;font-size:12.42px;line-height:12.42px;color:#111417;font-weight:700;">B</span>
</body></html>
